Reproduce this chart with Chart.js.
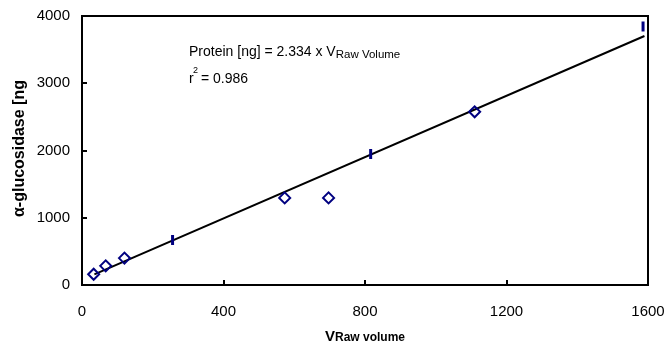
<!DOCTYPE html>
<html>
<head>
<meta charset="utf-8">
<script src="https://cdn.jsdelivr.net/npm/chart.js@4.4.1/dist/chart.umd.min.js"></script>
<style>
  html, body { margin: 0; padding: 0; background: #fff; }
  #wrap { width: 667px; height: 345px; }
</style>
</head>
<body>
<div id="wrap"><canvas id="chart" width="667" height="345"></canvas></div>
<script>
// values
const diamondX = [33, 67, 120, 573, 697, 1110];
const diamondY = [160, 285, 400, 1295, 1295, 2575];
const barX = [256, 816, 1586];
const barY = [669, 1948, 3844];
const fitX = [35, 1590];
const fitY = [158, 3703];
const xTicks = [0, 400, 800, 1200, 1600];
const yTicks = [0, 1000, 2000, 3000, 4000];

const NAVY = '#000080';
const FONT = '"Liberation Sans", Arial, sans-serif';

const toPoints = (xs, ys) => xs.map((x, i) => ({ x, y: ys[i] }));

const framePlugin = {
  id: 'frame',
  afterDatasetsDraw(chart) {
    const { ctx, chartArea: a, scales } = chart;
    ctx.save();
    ctx.strokeStyle = '#000';
    ctx.lineWidth = 2;
    ctx.strokeRect(a.left, a.top, a.right - a.left, a.bottom - a.top);
    // inward tick marks
    ctx.beginPath();
    for (const v of xTicks.slice(1, -1)) {
      const px = Math.round(scales.x.getPixelForValue(v));
      ctx.moveTo(px, a.bottom);
      ctx.lineTo(px, a.bottom - 5);
    }
    for (const v of yTicks.slice(1, -1)) {
      const py = Math.round(scales.y.getPixelForValue(v));
      ctx.moveTo(a.left, py);
      ctx.lineTo(a.left + 5, py);
    }
    ctx.stroke();
    ctx.restore();
  },
  afterDraw(chart) {
    const { ctx, chartArea: a } = chart;
    ctx.save();
    ctx.fillStyle = '#000';
    ctx.textBaseline = 'alphabetic';

    // equation text
    ctx.textAlign = 'left';
    ctx.font = `14px ${FONT}`;
    const line1 = 'Protein [ng] = 2.334 x V';
    ctx.fillText(line1, 189, 56);
    const w1 = ctx.measureText(line1).width;
    ctx.font = `11.5px ${FONT}`;
    ctx.fillText('Raw Volume', 189 + w1, 58);
    ctx.font = `14px ${FONT}`;
    ctx.fillText('r', 189, 83);
    ctx.font = `9px ${FONT}`;
    ctx.fillText('2', 193, 73);
    ctx.font = `14px ${FONT}`;
    ctx.fillText(' = 0.986', 197, 83);

    // x axis title
    ctx.font = `bold 15px ${FONT}`;
    const wV = ctx.measureText('V').width;
    ctx.font = `bold 12px ${FONT}`;
    const wSub = ctx.measureText('Raw volume').width;
    const cx = (a.left + a.right) / 2;
    const sx = cx - (wV + wSub) / 2;
    ctx.font = `bold 15px ${FONT}`;
    ctx.fillText('V', sx, 341);
    ctx.font = `bold 12px ${FONT}`;
    ctx.fillText('Raw volume', sx + wV, 341);

    // y axis title
    ctx.translate(24, (a.top + a.bottom) / 2 - 2);
    ctx.rotate(-Math.PI / 2);
    ctx.textAlign = 'center';
    ctx.font = `bold 16px ${FONT}`;
    ctx.fillText('\u03b1-glucosidase [ng', 0, 0);
    ctx.restore();
  }
};

new Chart(document.getElementById('chart'), {
  type: 'scatter',
  data: {
    datasets: [
      {
        type: 'line',
        data: toPoints(fitX, fitY),
        borderColor: '#000',
        borderWidth: 2,
        pointRadius: 0,
        fill: false,
        order: 2
      },
      {
        data: toPoints(diamondX, diamondY),
        pointStyle: 'rectRot',
        pointRadius: 5.5,
        borderColor: NAVY,
        backgroundColor: 'rgba(0,0,0,0)',
        borderWidth: 2,
        order: 1
      },
      {
        data: toPoints(barX, barY),
        pointStyle: 'line',
        rotation: 90,
        pointRadius: 5,
        borderColor: NAVY,
        borderWidth: 3,
        order: 1
      }
    ]
  },
  options: {
    responsive: false,
    animation: false,
    layout: { padding: { left: 0, right: 19, top: 16, bottom: 0 } },
    plugins: {
      legend: { display: false },
      tooltip: { enabled: false }
    },
    scales: {
      x: {
        type: 'linear',
        min: 0,
        max: 1600,
        afterFit: (s) => { s.height = 60; s.paddingRight = 0; s.paddingLeft = 0; },
        afterBuildTicks: (s) => { s.ticks = xTicks.map((v) => ({ value: v })); },
        grid: { display: false, drawTicks: false },
        border: { display: false },
        ticks: {
          color: '#000',
          font: { family: FONT, size: 15 },
          padding: 18,
          maxRotation: 0,
          callback: (v) => String(v)
        }
      },
      y: {
        type: 'linear',
        min: 0,
        max: 4000,
        afterFit: (s) => { s.width = 82; s.paddingTop = 0; s.paddingBottom = 0; },
        afterBuildTicks: (s) => { s.ticks = yTicks.map((v) => ({ value: v })); },
        grid: { display: false, drawTicks: false },
        border: { display: false },
        ticks: {
          color: '#000',
          font: { family: FONT, size: 15 },
          padding: 12,
          callback: (v) => String(v)
        }
      }
    }
  },
  plugins: [framePlugin]
});
</script>
</body>
</html>
